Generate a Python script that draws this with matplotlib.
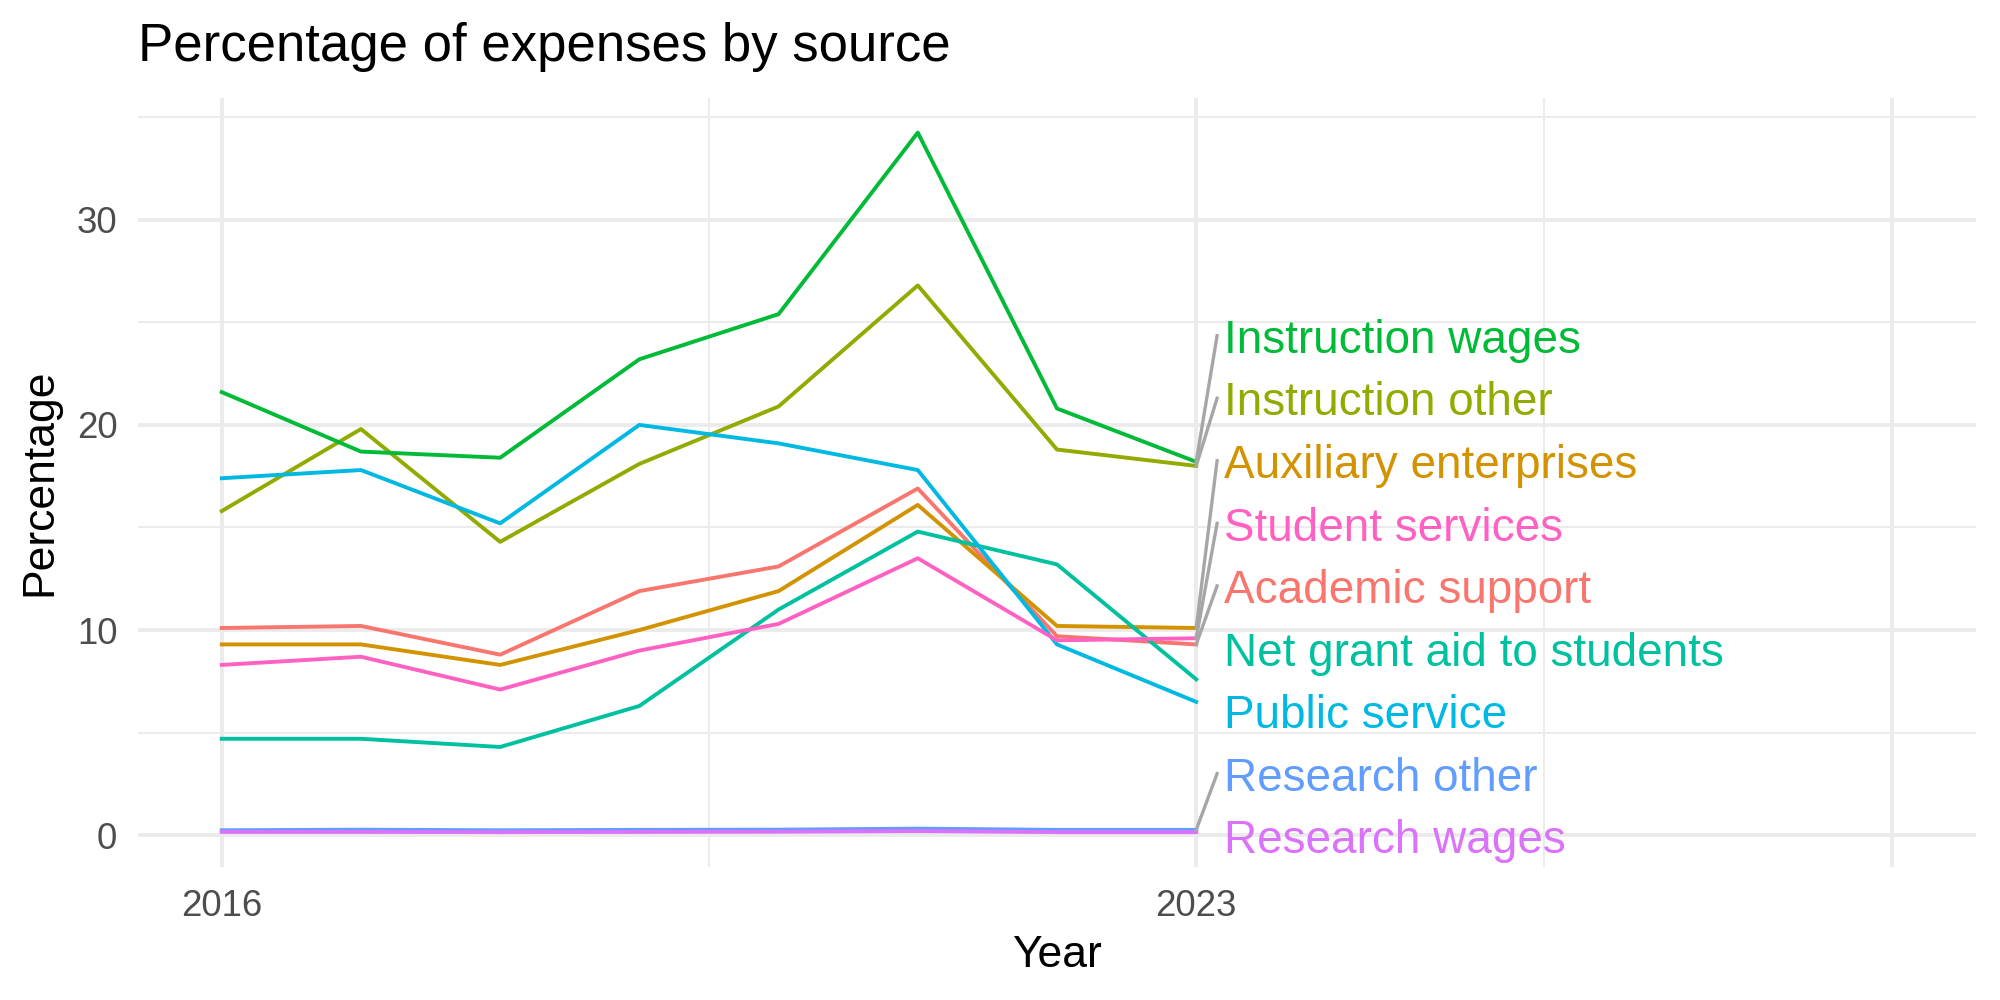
import numpy as np
import matplotlib
matplotlib.use("Agg")
from matplotlib import pyplot as plt

plt.rcParams['font.family'] = ['Liberation Sans', 'DejaVu Sans']

years = [2016, 2017, 2018, 2019, 2020, 2021, 2022, 2023]

# percentages
academic_support = [10.1, 10.2, 8.8, 11.9, 13.1, 16.9, 9.7, 9.3]
auxiliary_enterprises = [9.3, 9.3, 8.3, 10.0, 11.9, 16.1, 10.2, 10.1]
instruction_other = [15.8, 19.8, 14.3, 18.1, 20.9, 26.8, 18.8, 18.0]
instruction_wages = [21.6, 18.7, 18.4, 23.2, 25.4, 34.25, 20.8, 18.2]
net_grant_aid = [4.7, 4.7, 4.3, 6.3, 11.0, 14.8, 13.2, 7.6]
public_service = [17.4, 17.8, 15.2, 20.0, 19.1, 17.8, 9.3, 6.5]
research_other = [0.24, 0.27, 0.24, 0.26, 0.27, 0.32, 0.26, 0.26]
research_wages = [0.16, 0.16, 0.15, 0.16, 0.17, 0.2, 0.15, 0.15]
student_services = [8.3, 8.7, 7.1, 9.0, 10.3, 13.5, 9.5, 9.6]

sources = ["Academic support", "Auxiliary enterprises", "Instruction other",
           "Instruction wages", "Net grant aid to students", "Public service",
           "Research other", "Research wages", "Student services"]
series = [academic_support, auxiliary_enterprises, instruction_other,
          instruction_wages, net_grant_aid, public_service,
          research_other, research_wages, student_services]
colors = ["#F8766D", "#D39200", "#93AA00", "#00BA38", "#00C19F",
          "#00B9E3", "#619CFF", "#DB72FB", "#FF61C3"]

fig = plt.figure(figsize=(10, 5), dpi=200)
ax = fig.add_axes([0.0691, 0.133, 0.9188, 0.7695])

# ggplot minimal theme grid
for y in [5, 15, 25, 35]:
    ax.axhline(y, color="#EBEBEB", lw=0.7, zorder=0)
for y in [0, 10, 20, 30]:
    ax.axhline(y, color="#EBEBEB", lw=1.4, zorder=0)
for x in [2019.5, 2025.5]:
    ax.axvline(x, color="#EBEBEB", lw=0.7, zorder=0)
for x in [2016, 2023, 2028]:
    ax.axvline(x, color="#EBEBEB", lw=1.4, zorder=0)

for vals, col in zip(series, colors):
    ax.plot(years, vals, color=col, lw=1.4, zorder=2)

# repelled labels at the end of the lines
last = [v[-1] for v in series]
order = np.argsort(last)[::-1]
label_top, label_gap = 24.1, 3.05
for i, k in enumerate(order):
    ly = label_top - i * label_gap
    if abs(ly - last[k]) > 2.0:
        ax.plot([2023, 2023.15], [last[k], ly + 0.25], color="#A6A6A6", lw=1.2, zorder=3)
    ax.text(2023.2, ly, sources[k], color=colors[k], fontsize=16.5,
            ha="left", va="center", zorder=4)

ax.set_xlim(2015.4, 2028.6)
ax.set_ylim(-1.55, 35.96)
ax.set_xticks([2016, 2023])
ax.set_yticks([0, 10, 20, 30])
ax.tick_params(length=0, labelsize=13.2, labelcolor="#4D4D4D")
ax.tick_params(axis="x", pad=8)
ax.tick_params(axis="y", pad=7.5)
for s in ax.spines.values():
    s.set_visible(False)

ax.set_xlabel("Year", fontsize=16, labelpad=4)
ax.set_ylabel("Percentage", fontsize=16, labelpad=6)
ax.set_title("Percentage of expenses by source", loc="left", fontsize=19, pad=13)

plt.savefig("out.png", dpi=200)
